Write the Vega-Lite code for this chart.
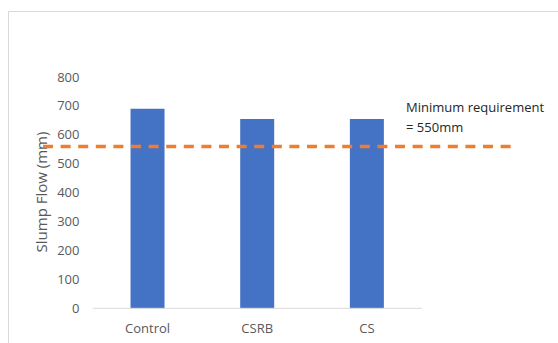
{
  "$schema": "https://vega.github.io/schema/vega-lite/v6.json",
  "width": 550,
  "height": 332,
  "autosize": {"type": "none"},
  "padding": {"left": 8, "top": 11, "right": 0, "bottom": 0},
  "background": "white",
  "config": {
    "view": {"stroke": "#d9d9d9", "strokeWidth": 1},
    "font": "Open Sans"
  },
  "layer": [
    {
      "data": {"values": [
        {"mix": "Control", "slump": 690},
        {"mix": "CSRB", "slump": 655},
        {"mix": "CS", "slump": 655}
      ]},
      "mark": {"type": "bar", "color": "#4472C4"},
      "encoding": {
        "x": {
          "field": "mix", "type": "nominal", "sort": null,
          "scale": {"domain": ["Control", "CSRB", "CS"], "range": [84.7, 413.7], "paddingInner": 0.69, "paddingOuter": 0.345},
          "axis": {"title": null, "labelAngle": 0, "domain": false, "ticks": false, "tickSize": 0, "grid": false,
                   "labelPadding": 14.5, "offset": -34.7, "labelFont": "Open Sans", "labelFontSize": 13, "labelColor": "#595959"}
        },
        "y": {
          "field": "slump", "type": "quantitative",
          "scale": {"domain": [-120, 1028.3], "nice": false, "zero": false},
          "axis": {"title": "Slump Flow (mm)", "values": [0, 100, 200, 300, 400, 500, 600, 700, 800],
                   "domain": false, "ticks": false, "tickSize": 0, "grid": false,
                   "labelPadding": 13.7, "offset": -84.7, "labelFont": "Open Sans", "labelFontSize": 13, "labelColor": "#595959",
                   "titleFont": "Open Sans", "titleFontSize": 15, "titleFontWeight": "normal", "titleColor": "#595959",
                   "titleX": -50.7, "titleY": 180.5, "titleBaseline": "middle", "titleAngle": -90}
        }
      }
    },
    {
      "data": {"values": [{"base": 0}]},
      "mark": {"type": "rule", "color": "#d9d9d9", "strokeWidth": 1},
      "encoding": {
        "x": {"datum": "Control", "bandPosition": -1.112, "title": null},
        "x2": {"datum": "CS", "bandPosition": 2.115},
        "y": {"field": "base", "type": "quantitative", "title": "Slump Flow (mm)"}
      }
    },
    {
      "data": {"values": [{"threshold": 560}]},
      "mark": {"type": "rule", "color": "#ED7D31", "strokeWidth": 3.5, "strokeDash": [10, 7.6]},
      "encoding": {
        "x": {"datum": "Control", "bandPosition": -2.574, "title": null},
        "x2": {"datum": "CS", "bandPosition": 4.741},
        "y": {"field": "threshold", "type": "quantitative", "title": "Slump Flow (mm)"}
      }
    },
    {
      "data": {"values": [{"label": "Minimum requirement\n= 550mm", "ypos": 680}]},
      "mark": {"type": "text", "align": "left", "baseline": "alphabetic", "fontSize": 13, "lineHeight": 20.6, "lineBreak": "\n", "color": "#262626", "font": "Open Sans"},
      "encoding": {
        "x": {"datum": "CS", "bandPosition": 1.653, "title": null},
        "y": {"field": "ypos", "type": "quantitative", "title": "Slump Flow (mm)"},
        "text": {"field": "label"}
      }
    }
  ]
}
